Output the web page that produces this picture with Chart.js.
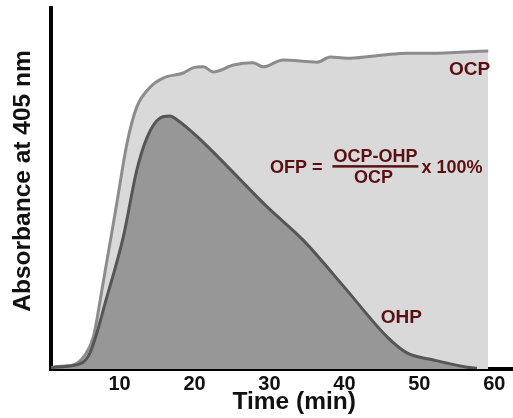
<!DOCTYPE html>
<html>
<head>
<meta charset="utf-8">
<script src="https://cdn.jsdelivr.net/npm/chart.js@4.4.0/dist/chart.umd.min.js"></script>
<style>
  html, body { margin: 0; padding: 0; background: #fff; }
</style>
</head>
<body>
<canvas id="absChart" width="513" height="418"></canvas>
<script>
// OCP curve: time (min) vs absorbance at 405 nm
var ocpTime = [0.85, 1.1, 3.8, 5.4, 6.5, 7.8, 9.7, 11.0, 12.3, 14.1, 15.8, 18.5, 19.8, 21.2, 22.5, 25.2, 27.8, 29.2, 31.8, 36.4, 38.1, 40.8, 45.2, 48.4, 52.4, 55.9, 59.2];
var ocpAbs = [0.2, 0.5, 1.1, 3.9, 8.9, 23.8, 46.8, 62.6, 72.6, 78.1, 80.6, 82.0, 83.4, 83.7, 82.3, 84.2, 84.8, 83.7, 85.6, 85.0, 86.4, 86.1, 87.0, 87.5, 87.5, 87.8, 88.1];

// OHP curve
var ohpTime = [0.85, 1.4, 4.7, 6.1, 8.3, 10.5, 12.3, 13.7, 15.4, 16.7, 17.7, 20.4, 29.7, 34.5, 40.1, 45.7, 48.4, 51.9, 56.4, 57.7];
var ohpAbs = [0.2, 0.5, 1.4, 4.7, 19.9, 36.6, 55.1, 64.3, 69.5, 70.1, 69.0, 64.3, 44.9, 35.7, 22.4, 8.9, 4.4, 2.5, 0.5, 0.2];

var timeTicks = [10, 20, 30, 40, 50, 60];

var labelFont = '"Liberation Sans", Arial, sans-serif';
var maroon = '#5c0f12';

function toPoints(xs, ys) {
  return xs.map(function (x, i) { return { x: x, y: ys[i] }; });
}

// axis titles, curve names and the OFP formula
var curveText = {
  id: 'curveText',
  afterDraw: function (chart) {
    var ctx = chart.ctx, xs = chart.scales.x, ys = chart.scales.y;
    ctx.save();

    ctx.fillStyle = '#111';
    ctx.font = 'bold 24.5px ' + labelFont;
    ctx.textAlign = 'center';
    ctx.textBaseline = 'alphabetic';
    ctx.fillText('Time (min)', xs.getPixelForValue(33.3), xs.bottom - 9);
    ctx.save();
    ctx.translate(ys.left + 30, chart.chartArea.top + 173);
    ctx.rotate(-Math.PI / 2);
    ctx.fillText('Absorbance at 405 nm', 0, 0);
    ctx.restore();

    ctx.fillStyle = maroon;
    ctx.textBaseline = 'middle';
    ctx.font = 'bold 19px ' + labelFont;
    ctx.fillText('OCP', xs.getPixelForValue(56.7), ys.getPixelForValue(82.8));
    ctx.fillText('OHP', xs.getPixelForValue(47.6), ys.getPixelForValue(14.1));

    var fx = xs.getPixelForValue(38.4), fy = ys.getPixelForValue(56.2);
    ctx.font = 'bold 18px ' + labelFont;
    ctx.textAlign = 'right';
    ctx.fillText('OFP =', fx - 10, fy + 2);
    ctx.textAlign = 'center';
    ctx.fillText('OCP-OHP', fx + 43, fy - 9);
    ctx.fillText('OCP', fx + 41, fy + 11.5);
    ctx.fillRect(fx, fy - 1, 86, 2.5);
    ctx.textAlign = 'left';
    ctx.fillText('x 100%', fx + 89, fy + 2);
    ctx.restore();
  }
};

var ctx = document.getElementById('absChart').getContext('2d');
new Chart(ctx, {
  type: 'line',
  data: {
    datasets: [
      {
        label: 'OHP',
        data: toPoints(ohpTime, ohpAbs),
        borderColor: '#565656',
        backgroundColor: '#979797',
        borderWidth: 3,
        fill: 'origin',
        pointRadius: 0,
        cubicInterpolationMode: 'monotone',
        order: 1
      },
      {
        label: 'OCP',
        data: toPoints(ocpTime, ocpAbs),
        borderColor: '#8c8c8c',
        backgroundColor: '#d9d9d9',
        borderWidth: 3,
        fill: 'origin',
        pointRadius: 0,
        cubicInterpolationMode: 'monotone',
        order: 2
      }
    ]
  },
  options: {
    responsive: false,
    animation: false,
    layout: { padding: { top: 8, right: 0, left: 0, bottom: 0 } },
    plugins: {
      legend: { display: false },
      tooltip: { enabled: false }
    },
    scales: {
      x: {
        type: 'linear',
        min: 0.85,
        max: 62.5,
        afterBuildTicks: function (scale) {
          scale.ticks = timeTicks.map(function (v) { return { value: v }; });
        },
        afterFit: function (scale) { scale.height = 49; },
        grid: { display: false, drawTicks: false },
        border: { display: true, color: '#000', width: 4 },
        ticks: {
          color: '#111',
          padding: 3,
          maxRotation: 0,
          autoSkip: false,
          font: { family: labelFont, size: 20, weight: 'bold' }
        }
      },
      y: {
        min: 0,
        max: 100,
        afterFit: function (scale) { scale.width = 51; },
        grid: { display: false, drawTicks: false },
        border: { display: true, color: '#000', width: 4 },
        ticks: { display: false }
      }
    }
  },
  plugins: [curveText]
});
</script>
</body>
</html>
